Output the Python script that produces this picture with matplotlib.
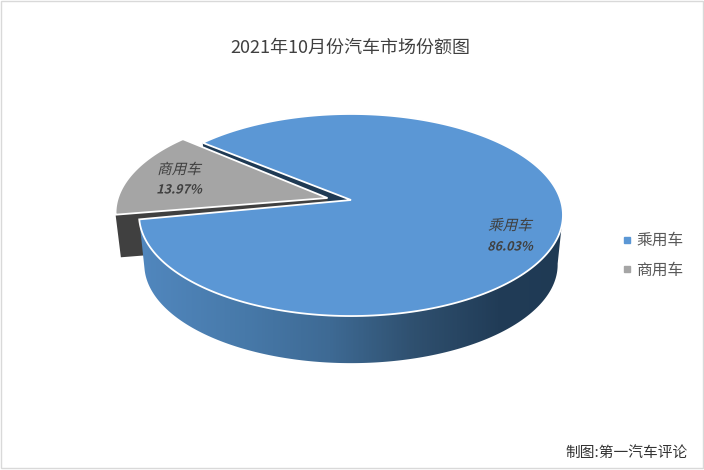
import numpy as np
import matplotlib
matplotlib.use("Agg")
import matplotlib.pyplot as plt
from matplotlib.colors import LinearSegmentedColormap
from matplotlib.lines import Line2D
from matplotlib.patches import Polygon, Rectangle
from matplotlib.patheffects import AbstractPathEffect
from matplotlib.transforms import Affine2D

plt.rcParams['font.family'] = ['Noto Sans CJK SC', 'DejaVu Sans']

title = "2021年10月份汽车市场份额图"
credit = "制图:第一汽车评论"
categories = ["乘用车", "商用车"]
shares = [86.03, 13.97]

BLUE, GRAY = "#5B97D5", "#A5A5A5"
NAVY, DARK = "#1F3A54", "#404040"


class Skew(AbstractPathEffect):
    """Slant real text, standing in for the chart's synthetic italic."""
    def draw_path(self, renderer, gc, tpath, affine, rgbFace=None):
        renderer.draw_path(gc, tpath, Affine2D().skew_deg(14, 0) + affine, rgbFace)


fig = plt.figure(figsize=(7.04, 4.70), dpi=100)
ax = fig.add_axes([0, 0, 1, 1])
ax.set_xlim(0, 704)
ax.set_ylim(470, 0)
ax.axis("off")

# Perspective view of a unit disc, in figure pixels
K, A, B, X0, Y0 = 0.1486, 98.8, 209.6, 351.0, 200.0
DEPTH_Y, DEPTH_S = 250.0, 0.975


def project(u, v, shift=(0, 0), low=False):
    u, v = np.asarray(u, float), np.asarray(v, float)
    w = 1 - K * v
    x, y = B * u / w, A * v / w
    if low:
        return np.c_[X0 + DEPTH_S * x + shift[0], DEPTH_Y + DEPTH_S * y + shift[1]]
    return np.c_[X0 + x + shift[0], Y0 + y + shift[1]]


def rim(a0, a1, **kw):
    t = np.radians(np.linspace(a0, a1, 240))
    return project(np.sin(t), -np.cos(t), **kw)


def apex(**kw):
    return project([0.0], [0.0], **kw)


spans = 360 * np.array(shares) / sum(shares)
start = -50.7
blue0, blue1 = start, start + spans[0]
GRAY_SHIFT, GRAY_ROT = (-23.5, -2.0), 1.5
GRAY_LOW = (-23.5, -9.0)
gray0, gray1 = blue1 + GRAY_ROT, blue1 + spans[1] + GRAY_ROT

# Cut face of the blue slice, seen through the gap
p_top = rim(blue0, blue0)
poly = np.vstack([apex(), p_top, rim(blue0, blue0, low=True), apex(low=True)])
ax.add_patch(Polygon(poly, fc=NAVY, ec="none", zorder=1))

# Commercial vehicle slice: cut face, then its top
g_top = rim(gray0, gray0, shift=GRAY_SHIFT)
g_low = rim(gray0, gray0, shift=GRAY_LOW, low=True)
poly = np.vstack([apex(shift=GRAY_SHIFT), g_top, g_low, apex(shift=GRAY_LOW, low=True)])
ax.add_patch(Polygon(poly, fc=DARK, ec="none", zorder=2))
poly = np.vstack([apex(shift=GRAY_SHIFT), rim(gray0, gray1, shift=GRAY_SHIFT)])
ax.add_patch(Polygon(poly, fc=GRAY, ec="white", lw=1.3, joinstyle="miter", zorder=3))

# Outer wall of the passenger slice with its horizontal shading
wall = np.vstack([rim(98, blue1), rim(98, blue1, low=True)[::-1]])
shade = LinearSegmentedColormap.from_list(
    "wall", [(0, "#5187BE"), (0.25, "#4779A9"), (0.45, "#3E6A94"),
             (0.65, "#2F506F"), (0.85, "#213C57"), (1, "#1F3A54")])
img = ax.imshow(np.linspace(0, 1, 424)[None, :], cmap=shade, aspect="auto",
                extent=[139, 563, 370, 210], zorder=4)
ax.set_xlim(0, 704)
ax.set_ylim(470, 0)
clip = Polygon(wall, transform=ax.transData, fc="none", ec="none")
ax.add_patch(clip)
img.set_clip_path(clip)

# Passenger slice top
poly = np.vstack([apex(), rim(blue0, blue1)])
ax.add_patch(Polygon(poly, fc=BLUE, ec="white", lw=1.3, joinstyle="miter", zorder=5))

# Data labels
slant = [Skew()]
label_pos = [(510, 226, 247), (179, 170, 190)]
for name, val, (x, y1, y2) in zip(categories, shares, label_pos):
    ax.text(x, y1, name, ha="center", va="center", fontsize=10.5, color=DARK,
            fontweight="medium", path_effects=slant, zorder=6)
    ax.text(x, y2, f"{val:.2f}%", ha="center", va="center", fontsize=9, color=DARK,
            fontweight="bold", path_effects=slant, zorder=6)

ax.text(350, 48, title, ha="center", va="center", fontsize=13, color="#404040")
ax.text(688, 453, credit, ha="right", va="center", fontsize=10.6, color="#333333")

handles = [Line2D([], [], ls="none", marker="s", ms=3.8, mfc=c, mec=c) for c in (BLUE, GRAY)]
ax.legend(handles, categories, loc="upper left", bbox_to_anchor=(620, 232),
          bbox_transform=ax.transData, frameon=False, fontsize=11.3, labelcolor="#595959",
          handlelength=0.85, handletextpad=0.2, labelspacing=0.82,
          borderaxespad=0, borderpad=0)

ax.add_patch(Rectangle((0.5, 0.5), 702, 467.5, fc="none", ec="#D9D9D9", lw=1, zorder=7))

fig.savefig("out.png", dpi=100, facecolor="white")
